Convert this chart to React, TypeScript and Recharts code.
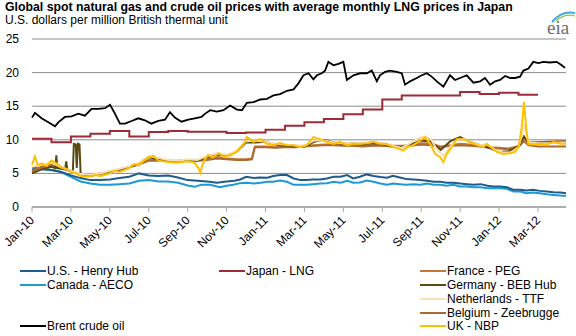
import React from 'react';
import { LineChart, Line, XAxis, YAxis, CartesianGrid } from 'recharts';

// x values are months since Jan 2010 (0 = Jan-10, 26 = Mar-12)
const MONTHS = ['Jan', 'Feb', 'Mar', 'Apr', 'May', 'Jun', 'Jul', 'Aug', 'Sep', 'Oct', 'Nov', 'Dec'];
const xTicks = [0, 2, 4, 6, 8, 10, 12, 14, 16, 18, 20, 22, 24, 26];
const yTicks = [0, 5, 10, 15, 20, 25];

const brent: [number, number][] = [
  [0, 13.3], [0.15, 14.0], [0.49, 13.2], [0.84, 12.6], [1.18, 12.0], [1.35, 12.6], [1.69, 13.4],
  [2.03, 13.5], [2.38, 13.9], [2.72, 13.6], [3.06, 14.6], [3.41, 14.6], [3.75, 14.7], [4.01, 15.2],
  [4.26, 13.9], [4.52, 12.4], [4.78, 12.4], [5.12, 12.8], [5.46, 13.2], [5.8, 12.9], [6.13, 12.4],
  [6.49, 12.8], [6.83, 13.0], [7.09, 14.1], [7.34, 13.3], [7.68, 12.7], [8.03, 13.0], [8.37, 13.2],
  [8.71, 13.4], [8.9, 13.9], [9.16, 14.4], [9.5, 14.2], [9.84, 14.4], [10.18, 15.1], [10.53, 14.5],
  [10.79, 14.4], [11.04, 15.5], [11.38, 15.6], [11.73, 16.0], [12.07, 16.1], [12.41, 16.6],
  [12.75, 16.8], [13.1, 17.3], [13.44, 17.5], [13.69, 18.4], [13.95, 19.6], [14.21, 19.9],
  [14.46, 19.0], [14.64, 19.6], [14.89, 19.9], [15.06, 20.3], [15.23, 21.6], [15.49, 21.1],
  [15.75, 21.3], [16.0, 21.6], [16.18, 18.9], [16.52, 19.6], [16.86, 19.9], [17.21, 19.9],
  [17.46, 20.3], [17.72, 18.7], [17.88, 19.6], [18.14, 20.1], [18.4, 20.3], [18.75, 20.1],
  [19.0, 19.9], [19.17, 18.2], [19.43, 18.7], [19.77, 19.2], [20.03, 19.6], [20.29, 19.9],
  [20.54, 19.4], [20.8, 18.7], [21.14, 17.9], [21.48, 19.6], [21.74, 18.9], [22.0, 19.2],
  [22.34, 19.6], [22.68, 18.5], [23.03, 18.7], [23.28, 19.2], [23.54, 18.2], [23.8, 18.7],
  [24.05, 18.9], [24.31, 19.5], [24.57, 19.2], [24.82, 19.2], [25.08, 19.4], [25.25, 20.3],
  [25.51, 20.6], [25.76, 21.6], [26.02, 21.4], [26.28, 21.6], [26.62, 21.5], [26.96, 21.6],
  [27.22, 21.1], [27.39, 20.7],
];

const japanLng: [number, number][] = [
  [0, 10.15], [1, 9.65], [2, 10.5], [3, 10.9], [4, 11.3], [5, 10.5], [6, 11.15], [7, 11.3],
  [8, 11.2], [9, 11.2], [10, 11.0], [11, 11.1], [12, 11.5], [13, 12.1], [14, 12.6], [15, 13.1],
  [16, 13.8], [17, 14.5], [18, 16.0], [19, 16.6], [20, 16.6], [21, 16.6], [22, 17.1], [23, 16.8],
  [24, 17.0], [25, 16.7], [26, 16.7],
];

const henryHub: [number, number][] = [
  [0, 5.9], [0.5, 5.6], [1, 5.5], [1.5, 5.2], [2, 4.7], [2.5, 4.3], [3, 4.0], [3.5, 4.0], [4, 4.1],
  [4.5, 4.3], [5, 4.5], [5.5, 5.0], [6, 4.7], [6.5, 4.6], [7, 4.7], [7.5, 4.4], [8, 4.0], [8.5, 3.9],
  [9, 3.8], [9.5, 3.6], [10, 3.8], [10.4, 3.9], [10.7, 4.1], [11, 4.5], [11.4, 4.3], [11.7, 4.4],
  [12.1, 4.35], [12.4, 4.6], [12.75, 4.75], [13.1, 4.75], [13.45, 4.25], [13.8, 4.0], [14.1, 4.0],
  [14.45, 4.1], [14.8, 4.1], [15.15, 4.25], [15.5, 4.5], [15.85, 4.5], [16.2, 4.75], [16.5, 4.25],
  [16.85, 4.5], [17.2, 4.85], [17.55, 4.6], [17.9, 4.45], [18.25, 4.35], [18.55, 4.65], [18.9, 4.4],
  [19.25, 4.15], [19.6, 4.1], [19.95, 4.0], [20.3, 3.9], [20.65, 3.75], [21.0, 3.75], [21.3, 3.6],
  [21.65, 3.6], [22.0, 3.5], [22.35, 3.4], [22.7, 3.3], [23.05, 3.4], [23.4, 3.15], [23.7, 3.05],
  [24.05, 3.05], [24.4, 2.95], [24.75, 2.55], [25.1, 2.55], [25.4, 2.45], [25.75, 2.55], [26.1, 2.4],
  [26.45, 2.3], [26.8, 2.2], [27.15, 2.15], [27.44, 2.05],
];

const aeco: [number, number][] = [
  [0, 5.6], [0.5, 5.7], [1, 5.5], [1.5, 5.2], [2, 4.5], [2.5, 3.8], [3, 3.5], [3.5, 3.3], [4, 3.3],
  [4.5, 3.4], [5, 3.5], [5.5, 3.9], [6, 4.0], [6.5, 3.8], [7, 3.8], [7.5, 3.6], [8, 3.2], [8.35, 3.0],
  [8.7, 3.3], [9.15, 3.3], [9.65, 2.95], [10, 3.15], [10.35, 3.3], [10.7, 3.55], [11.05, 3.6],
  [11.4, 3.5], [11.75, 3.6], [12.1, 3.75], [12.4, 3.75], [12.75, 3.95], [13.1, 3.75], [13.45, 3.3],
  [13.8, 3.3], [14.1, 3.3], [14.45, 3.4], [14.8, 3.5], [15.15, 3.55], [15.5, 3.75], [15.85, 3.6],
  [16.2, 3.9], [16.5, 3.6], [16.85, 3.65], [17.2, 3.95], [17.55, 3.75], [17.9, 3.5], [18.25, 3.3],
  [18.55, 3.5], [18.9, 3.4], [19.25, 3.3], [19.6, 3.4], [19.95, 3.3], [20.3, 3.5], [20.65, 3.3],
  [21.0, 3.3], [21.3, 3.15], [21.65, 3.3], [22.0, 3.05], [22.35, 3.05], [22.7, 2.95], [23.05, 2.95],
  [23.4, 2.8], [23.7, 2.8], [24.05, 2.8], [24.4, 2.7], [24.75, 2.3], [25.1, 2.3], [25.4, 2.05],
  [25.75, 2.15], [26.1, 2.05], [26.45, 1.9], [26.8, 1.8], [27.15, 1.7], [27.44, 1.65],
];

const francePeg: [number, number][] = [
  [0, 5.2], [0.5, 5.8], [1, 6.2], [1.5, 5.9], [2, 5.4], [2.5, 4.9], [3, 4.8], [3.5, 5.0], [4, 5.3],
  [4.5, 5.6], [5, 6.0], [5.5, 6.4], [6, 7.0], [6.5, 7.0], [7, 6.9], [7.5, 6.9], [8, 7.0], [8.5, 7.0],
  [9, 7.1], [9.5, 7.4], [10, 7.2], [10.5, 7.1], [11, 7.1], [11.3, 7.2], [11.45, 9.0], [12, 9.0],
  [12.5, 8.9], [13, 9.0], [13.5, 9.0], [14, 9.1], [14.5, 9.2], [15, 9.3], [15.5, 9.3], [16, 9.2],
  [16.5, 9.2], [17, 9.1], [17.5, 9.2], [18, 9.2], [18.5, 9.1], [19, 9.1], [19.5, 9.2], [20, 9.5],
  [20.5, 9.4], [21, 9.0], [21.5, 9.2], [22, 9.4], [22.5, 9.3], [23, 9.1], [23.5, 8.9], [24, 8.8],
  [24.5, 8.7], [25, 9.1], [25.28, 10.3], [25.5, 9.6], [26, 9.6], [26.5, 9.7], [27, 9.8], [27.44, 9.8],
];

const germanyBeb: [number, number][] = [
  [0, 5.0], [0.5, 5.6], [1, 6.0], [1.2, 5.8], [1.25, 7.7], [1.3, 5.8], [1.5, 5.7], [1.7, 5.6],
  [1.76, 6.8], [1.82, 5.5], [2.1, 5.3], [2.15, 9.4], [2.25, 9.3], [2.3, 5.8], [2.36, 9.4], [2.44, 9.3],
  [2.5, 4.8], [3, 4.6], [3.5, 4.9], [4, 5.3], [4.5, 5.6], [5, 5.9], [5.5, 6.5], [6, 7.4], [6.5, 7.1],
  [7, 6.9], [7.5, 6.8], [8, 7.0], [8.5, 6.9], [9, 7.4], [9.5, 7.7], [10, 7.7], [10.5, 8.2], [11, 9.6],
  [11.5, 9.6], [12, 9.7], [12.5, 9.3], [13, 9.1], [13.5, 9.0], [14, 9.0], [14.5, 9.7], [15, 10.0],
  [15.5, 9.6], [16, 9.4], [16.5, 9.5], [17, 9.3], [17.5, 9.5], [18, 9.4], [18.5, 9.0], [19, 8.9],
  [19.5, 9.4], [20, 9.9], [20.5, 9.7], [21, 8.5], [21.5, 9.8], [22, 10.4], [22.5, 9.7], [23, 9.2],
  [23.5, 8.8], [24, 8.2], [24.5, 8.3], [25, 9.0], [25.28, 10.5], [25.5, 9.6], [26, 9.6], [26.5, 9.6],
  [27, 9.7], [27.44, 9.7],
];

const netherlandsTtf: [number, number][] = [
  [0, 6.0], [0.5, 6.3], [1, 6.6], [1.5, 5.9], [2, 5.4], [2.5, 4.9], [3, 4.8], [3.5, 5.0], [4, 5.4],
  [4.5, 5.7], [5, 6.1], [5.5, 6.6], [6, 7.6], [6.5, 7.3], [7, 7.0], [7.5, 6.9], [8, 7.1], [8.5, 7.0],
  [9, 7.6], [9.5, 8.0], [10, 7.8], [10.5, 8.3], [11, 9.8], [11.5, 9.9], [12, 9.7], [12.5, 9.4],
  [13, 9.3], [13.5, 9.2], [14, 9.1], [14.5, 9.9], [15, 9.9], [15.5, 9.6], [16, 9.5], [16.5, 9.5],
  [17, 9.5], [17.5, 9.7], [18, 9.5], [18.5, 9.1], [19, 8.8], [19.5, 9.6], [19.9, 10.3], [20.2, 10.5],
  [20.5, 10.1], [20.75, 8.8], [21.0, 8.0], [21.15, 7.6], [21.35, 8.4], [21.6, 9.4], [21.85, 10.0],
  [22.2, 10.1], [22.5, 9.7], [23, 9.2], [23.4, 9.3], [23.8, 8.5], [24.2, 8.1], [24.6, 8.1], [25.0, 8.9],
  [25.2, 11.0], [25.3, 12.4], [25.45, 10.2], [25.6, 9.6], [26, 9.5], [26.5, 9.5], [27, 9.6], [27.44, 9.6],
];

const belgiumZee: [number, number][] = [
  [0, 5.4], [0.5, 6.0], [1, 6.3], [1.5, 5.8], [2, 5.3], [2.5, 4.8], [3, 4.7], [3.5, 4.9], [4, 5.2],
  [4.5, 5.5], [5, 5.9], [5.5, 6.3], [6, 6.9], [6.5, 6.9], [7, 6.9], [7.5, 6.8], [8, 6.9], [8.5, 6.9],
  [9, 7.0], [9.5, 7.2], [10, 7.1], [10.5, 7.0], [11, 7.0], [11.3, 7.1], [11.45, 8.9], [12, 8.9],
  [12.5, 8.8], [13, 8.9], [13.5, 8.9], [14, 9.0], [14.5, 9.1], [15, 9.2], [15.5, 9.2], [16, 9.1],
  [16.5, 9.1], [17, 9.0], [17.5, 9.1], [18, 9.1], [18.5, 9.0], [19, 9.0], [19.5, 9.1], [20, 9.3],
  [20.5, 9.2], [21, 8.9], [21.5, 9.1], [22, 9.2], [22.5, 9.1], [23, 9.0], [23.5, 8.8], [24, 8.7],
  [24.5, 8.6], [25, 8.9], [25.28, 9.8], [25.5, 9.2], [26, 9.0], [26.5, 9.0], [27, 9.0], [27.44, 9.0],
];

const ukNbp: [number, number][] = [
  [0, 6.3], [0.15, 7.5], [0.3, 6.2], [0.5, 6.5], [0.75, 6.1], [1.0, 6.9], [1.25, 6.5], [1.5, 5.9],
  [1.75, 5.7], [2.0, 5.2], [2.25, 5.0], [2.5, 4.6], [3, 4.5], [3.25, 4.8], [3.5, 4.6], [4, 5.0],
  [4.25, 5.4], [4.5, 5.2], [5, 5.8], [5.25, 6.4], [5.5, 6.2], [5.75, 6.9], [6, 7.4], [6.25, 7.6],
  [6.5, 6.9], [7, 6.7], [7.5, 6.6], [8, 6.8], [8.35, 6.6], [8.55, 5.8], [8.65, 5.1], [8.75, 6.2],
  [8.9, 7.2], [9.05, 7.7], [9.3, 7.4], [9.6, 8.0], [9.85, 7.5], [10.2, 7.7], [10.5, 8.2], [10.87, 9.4],
  [11.04, 10.4], [11.38, 9.7], [11.73, 10.1], [12.07, 9.4], [12.41, 9.2], [12.75, 9.5], [13.1, 9.2],
  [13.44, 9.2], [13.78, 8.9], [14.12, 9.2], [14.46, 10.4], [14.81, 10.1], [15.15, 9.7], [15.49, 9.4],
  [15.83, 9.7], [16.18, 9.2], [16.52, 9.4], [16.86, 9.4], [17.21, 9.5], [17.55, 9.7], [17.89, 9.4],
  [18.23, 9.4], [18.57, 8.9], [18.92, 8.6], [19.09, 8.4], [19.26, 8.9], [19.6, 9.2], [19.94, 9.9],
  [20.2, 10.4], [20.46, 9.4], [20.72, 7.9], [20.97, 7.4], [21.14, 6.7], [21.31, 7.9], [21.57, 8.9],
  [21.83, 10.1], [22.17, 10.1], [22.51, 9.65], [22.86, 9.2], [23.2, 8.9], [23.37, 9.4], [23.71, 8.6],
  [23.88, 8.2], [24.23, 7.9], [24.57, 8.0], [24.82, 8.2], [25.0, 8.9], [25.15, 11.5], [25.28, 15.6],
  [25.4, 11.5], [25.5, 9.4], [25.77, 9.3], [26.11, 9.4], [26.45, 9.3], [26.79, 9.65], [27.14, 9.4],
  [27.44, 9.4],
];

const toRows = (pts: [number, number][]) => pts.map(([m, v]) => ({ m, v }));

// draw order: first drawn is at the bottom
const SERIES = [
  { name: 'Canada - AECO', color: '#1B9AD6', data: aeco },
  { name: 'U.S. - Henry Hub', color: '#1F5C8B', data: henryHub },
  { name: 'Brent crude oil', color: '#000000', data: brent },
  { name: 'Japan - LNG', color: '#9E2B37', data: japanLng, step: true },
  { name: 'France - PEG', color: '#C47A36', data: francePeg },
  { name: 'Belgium - Zeebrugge', color: '#AD6A30', data: belgiumZee },
  { name: 'Germany  - BEB Hub', color: '#5B4A12', data: germanyBeb },
  { name: 'Netherlands  - TTF', color: '#F7E1B3', data: netherlandsTtf },
  { name: 'UK - NBP', color: '#FFC000', data: ukNbp },
];

const LEGEND = [
  { name: 'U.S. - Henry Hub', x: 20, y: 271 },
  { name: 'Canada - AECO', x: 20, y: 285 },
  { name: 'Brent crude oil', x: 20, y: 326 },
  { name: 'Japan - LNG', x: 219, y: 271 },
  { name: 'France - PEG', x: 420, y: 271 },
  { name: 'Germany  - BEB Hub', x: 420, y: 285 },
  { name: 'Netherlands  - TTF', x: 420, y: 299 },
  { name: 'Belgium - Zeebrugge', x: 420, y: 313 },
  { name: 'UK - NBP', x: 420, y: 326 },
];

const fmtMonth = (m: number) => `${MONTHS[m % 12]}-${10 + Math.floor(m / 12)}`;

const XTick = (props: any) => {
  const { x, y, payload } = props;
  return (
    <g transform={`translate(${x + 3},${y + 7})`}>
      <text textAnchor="end" transform="rotate(-45)" fontSize={12} fill="#000"
        fontFamily="'Liberation Sans', Arial, sans-serif">
        {fmtMonth(payload.value)}
      </text>
    </g>
  );
};

const YTick = (props: any) => {
  const { y, payload } = props;
  return (
    <text x={19} y={y} dy={4} textAnchor="end" fontSize={12} fill="#000"
      fontFamily="'Liberation Sans', Arial, sans-serif">
      {payload.value}
    </text>
  );
};

export default function App() {
  const font = "'Liberation Sans', Arial, sans-serif";
  return (
    <div style={{ position: 'absolute', left: 0, top: 0, width: 576, height: 336, background: '#fff' }}>
      <LineChart width={576} height={336} margin={{ top: 39, right: 10, left: 0, bottom: 89 }}
        style={{ position: 'absolute', left: 0, top: 0 }}>
        <CartesianGrid vertical={false} stroke="#8C8C8C" strokeWidth={1} />
        <XAxis dataKey="m" type="number" domain={[0, 27.44]} ticks={xTicks} interval={0}
          allowDuplicatedCategory={false} height={40} tick={<XTick />}
          axisLine={{ stroke: '#A6A6A6', strokeWidth: 1.5 }} tickLine={{ stroke: '#A6A6A6' }} tickSize={5} />
        <YAxis type="number" domain={[0, 25]} ticks={yTicks} width={32} axisLine={false}
          tickLine={false} tick={<YTick />} />
        {SERIES.map((s) => (
          <Line key={s.name} data={toRows(s.data)} dataKey="v" name={s.name}
            type={s.step ? 'stepAfter' : 'linear'} stroke={s.color}
            strokeWidth={s.name === 'Brent crude oil' ? 1.8 : 2}
            dot={false} activeDot={false} isAnimationActive={false} />
        ))}
      </LineChart>
      <svg width={576} height={336} style={{ position: 'absolute', left: 0, top: 0, pointerEvents: 'none' }}>
        <text x={5} y={11} fontSize={12.3} fontWeight="bold" fontFamily={font} fill="#000">
          Global spot natural gas and crude oil prices with average monthly LNG prices in Japan
        </text>
        <text x={5} y={24} fontSize={12} fontFamily={font} fill="#000">
          U.S. dollars per million British thermal unit
        </text>
        {/* eia logo */}
        <path d="M552 22 Q562 10 575 13" fill="none" stroke="#3FA9D8" strokeWidth={2} />
        <path d="M556 21 Q565 13 575 16" fill="none" stroke="#8DC63F" strokeWidth={1.2} />
        <text x={547} y={34} fontSize={19} fontFamily="'Liberation Serif', serif" fill="#6B6B6B">eia</text>
        {LEGEND.map((l) => {
          const s = SERIES.find((q) => q.name === l.name)!;
          return (
            <g key={l.name}>
              <line x1={l.x} x2={l.x + 26} y1={l.y} y2={l.y} stroke={s.color} strokeWidth={2} />
              <text x={l.x + 27} y={l.y + 4} fontSize={12} fontFamily={font} fill="#000">
                {l.name}
              </text>
            </g>
          );
        })}
      </svg>
    </div>
  );
}
